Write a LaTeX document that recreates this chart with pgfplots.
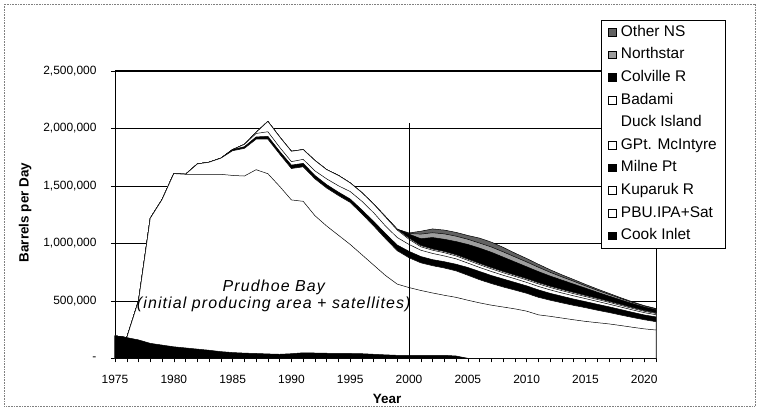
\documentclass[border=0pt]{standalone}
\usepackage{fontspec}
\setmainfont{Liberation Sans}
\usepackage{pgfplots}
\usepackage{pgfplotstable}
\pgfplotsset{compat=1.18}
% cumulative (stacked) tops, barrels per day
\pgfplotstableread{
Year Cook PBU Kup Milne GPt Duck Bad Colv North Other
1975 195000 195000 195000 195000 195000 195000 195000 195000 195000 195000
1976 180000 180000 180000 180000 180000 180000 180000 180000 180000 180000
1977 160000 500000 500000 500000 500000 500000 500000 500000 500000 500000
1978 130000 1218000 1218000 1218000 1218000 1218000 1218000 1218000 1218000 1218000
1979 115000 1380000 1380000 1380000 1380000 1380000 1380000 1380000 1380000 1380000
1980 100000 1606000 1606000 1606000 1606000 1606000 1606000 1606000 1606000 1606000
1981 90000 1600000 1600000 1600000 1600000 1600000 1600000 1600000 1600000 1600000
1982 80000 1600000 1690000 1690000 1690000 1690000 1690000 1690000 1690000 1690000
1983 70000 1600000 1705000 1705000 1705000 1705000 1705000 1705000 1705000 1705000
1984 58000 1600000 1740000 1740000 1740000 1740000 1740000 1740000 1740000 1740000
1985 50000 1590000 1805000 1815000 1815000 1815000 1815000 1815000 1815000 1815000
1986 45000 1585000 1825000 1840000 1860000 1860000 1860000 1860000 1860000 1860000
1987 42000 1640000 1905000 1925000 1955000 1965000 1965000 1965000 1965000 1965000
1988 38000 1605000 1905000 1930000 1970000 2060000 2060000 2060000 2060000 2060000
1989 35000 1495000 1775000 1800000 1835000 1925000 1925000 1925000 1925000 1925000
1990 40000 1377000 1650000 1680000 1710000 1800000 1800000 1800000 1800000 1800000
1991 48000 1365000 1665000 1695000 1730000 1815000 1815000 1815000 1815000 1815000
1992 46000 1240000 1560000 1590000 1630000 1720000 1720000 1720000 1720000 1720000
1993 44000 1150000 1480000 1510000 1560000 1640000 1640000 1640000 1640000 1640000
1994 42000 1070000 1415000 1445000 1500000 1590000 1590000 1590000 1590000 1590000
1995 42000 990000 1355000 1385000 1450000 1525000 1525000 1525000 1525000 1525000
1996 40000 900000 1255000 1290000 1365000 1440000 1440000 1440000 1440000 1440000
1997 35000 810000 1150000 1190000 1265000 1340000 1340000 1340000 1340000 1340000
1998 30000 720000 1040000 1085000 1150000 1228000 1232000 1232000 1232000 1232000
1999 26000 645000 935000 985000 1050000 1115000 1122000 1122000 1122000 1122000
2000 26000 615000 874000 930000 990000 1035000 1045000 1080000 1085000 1090000
2001 26000 590000 830000 885000 940000 970000 980000 1040000 1080000 1105000
2002 26000 568000 805000 858000 912000 940000 950000 1050000 1092000 1125000
2003 26000 548000 785000 840000 890000 918000 928000 1035000 1082000 1115000
2004 20000 530000 760000 818000 865000 890000 900000 1015000 1062000 1095000
2005 0 505000 722000 790000 828000 852000 862000 990000 1035000 1068000
2006 0 482000 683000 755000 790000 814000 824000 958000 1002000 1045000
2007 0 462000 650000 720000 755000 778000 788000 922000 968000 1010000
2008 0 446000 620000 690000 722000 744000 754000 880000 926000 965000
2009 0 430000 593000 660000 692000 713000 723000 838000 882000 915000
2010 0 410000 565000 630000 660000 682000 692000 796000 838000 868000
2011 0 378000 530000 595000 625000 647000 657000 754000 792000 818000
2012 0 365000 505000 565000 595000 616000 626000 715000 748000 770000
2013 0 350000 482000 540000 568000 588000 598000 680000 708000 726000
2014 0 335000 460000 515000 543000 562000 572000 645000 670000 685000
2015 0 321000 440000 493000 519000 537000 546000 610000 630000 643000
2016 0 310000 418000 470000 495000 512000 521000 575000 592000 603000
2017 0 299000 398000 448000 471000 487000 495000 541000 556000 565000
2018 0 285000 376000 424000 446000 460000 468000 508000 520000 527000
2019 0 270000 355000 400000 421000 434000 441000 476000 486000 491000
2020 0 256000 335000 377000 397000 409000 415000 446000 454000 458000
2021 0 246000 318000 360000 379000 390000 395000 423000 430000 433000
}\prod

\begin{document}
\begin{tikzpicture}
\useasboundingbox (-115bp,-52.7bp) rectangle (644bp,358.3bp);
\draw[gray, densely dotted, line width=0.6pt] (-111bp,-48bp) rectangle (640bp,354bp);
\begin{axis}[
  at={(0,0)}, anchor=south west,
  scale only axis, width=541bp, height=287.5bp,
  xmin=1975, xmax=2021, ymin=0, ymax=2500000,
  scaled y ticks=false,
  axis line style={black, line width=0.6pt},
  ymajorgrids, grid style={black, line width=0.5pt},
  tick align=outside, xtick pos=bottom, ytick pos=left,
  major tick length=4bp, minor tick length=4bp,
  tick style={black, line width=0.5pt},
  xtick={1975,1980,1985,1990,1995,2000,2005,2010,2015,2020},
  xticklabels={1975,1980,1985,1990,1995,2000,2005,2010,2015,2020},
  minor xtick={1976,1977,...,2021},
  ytick={0,500000,1000000,1500000,2000000,2500000},
  yticklabels={-,{500,000},{1,000,000},{1,500,000},{2,000,000},{2,500,000}},
  ticklabel style={font=\fontsize{12}{14}\selectfont},
  yticklabel style={xshift=-11bp},
  xticklabel style={yshift=-9bp},
  xlabel={\textbf{Year}}, ylabel={\textbf{Barrels per Day}},
  label style={font=\fontsize{13.5}{15}\selectfont},
  xlabel style={at={(axis description cs:0.503,-0.1416)}, anchor=center},
  ylabel style={at={(axis description cs:-0.166,0.507)}, anchor=center, rotate=0},
  legend cell align=left,
  legend image code/.code={\draw[line width=0.4pt] (0bp,-3.5bp) rectangle (7.5bp,4bp);},
  legend style={at={(axis description cs:0.898,1.1767)}, anchor=north west,
    draw=black, line width=0.5pt, fill=white,
    font=\fontsize{15.5}{17}\selectfont,
    nodes={text height=11bp, text depth=3.5bp, inner sep=1bp},
    row sep=6.1bp, inner xsep=7bp, inner ysep=4bp,
    /tikz/every odd column/.append style={column sep=4bp}},
]
\addplot[fill=black!62, draw=black, line width=0.5pt] table[x=Year, y=Other]{\prod} \closedcycle;
\addlegendentry{Other NS}
\addplot[fill=black!38, draw=black, line width=0.5pt] table[x=Year, y=North]{\prod} \closedcycle;
\addlegendentry{Northstar}
\addplot[fill=black, draw=black, line width=0.5pt] table[x=Year, y=Colv]{\prod} \closedcycle;
\addlegendentry{Colville R}
\addplot[fill=white, draw=black, line width=0.5pt] table[x=Year, y=Bad]{\prod} \closedcycle;
\addlegendentry{Badami}
\addplot[fill=white, draw=black, line width=0.5pt, forget plot] table[x=Year, y=Duck]{\prod} \closedcycle;
\addlegendimage{draw=white, fill=white}
\addlegendentry{Duck Island}
\addplot[fill=white, draw=black, line width=0.5pt] table[x=Year, y=GPt]{\prod} \closedcycle;
\addlegendentry{GPt. McIntyre}
\addplot[fill=black, draw=black, line width=0.5pt] table[x=Year, y=Milne]{\prod} \closedcycle;
\addlegendentry{Milne Pt}
\addplot[fill=white, draw=black, line width=0.5pt] table[x=Year, y=Kup]{\prod} \closedcycle;
\addlegendentry{Kuparuk R}
\addplot[fill=white, draw=black, line width=0.5pt] table[x=Year, y=PBU]{\prod} \closedcycle;
\addlegendentry{PBU.IPA+Sat}
\addplot[fill=black, draw=black, line width=0.5pt] table[x=Year, y=Cook]{\prod} \closedcycle;
\addlegendentry{Cook Inlet}
\addplot[black, line width=0.6pt, forget plot] coordinates {(2000,0) (2000,2050000)};
\node[font=\itshape\fontsize{16}{18}\selectfont\addfontfeatures{LetterSpace=7}] at (axis cs:1988.5,620000) {Prudhoe Bay};
\node[font=\itshape\fontsize{16}{18}\selectfont\addfontfeatures{LetterSpace=7}] at (axis cs:1988.5,465000) {(initial producing area + satellites)};
\end{axis}
\end{tikzpicture}
\end{document}
